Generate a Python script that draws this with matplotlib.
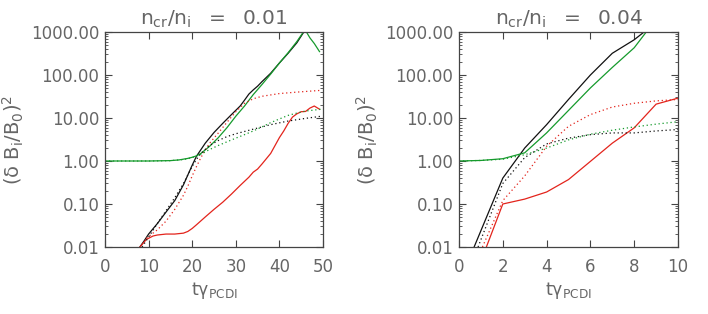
import numpy as np
import matplotlib
matplotlib.use("Agg")
import matplotlib.pyplot as plt
from matplotlib.ticker import FixedLocator, LogLocator, NullFormatter

plt.rcParams['mathtext.fontset'] = 'dejavusans'

# ---- panel 1 : n_cr/n_i = 0.01 ----
t1_black = [8, 9, 10, 12, 14, 16, 18, 20, 21, 23, 25, 27, 29, 31, 32, 33, 34, 35, 36, 38, 40, 42, 44, 45.6]
v1_black = [0.01, 0.014, 0.02, 0.035, 0.065, 0.12, 0.28, 0.8, 1.3, 2.6, 4.6, 7.5, 12, 19, 26, 36, 45, 55, 70, 110, 190, 320, 560, 1000]
t1_green = [0, 5, 10, 15, 17, 19, 20, 21, 22, 24, 26, 28, 30, 32, 34, 36, 38, 40, 42, 44, 45.5, 46.2, 47, 48, 49.2]
v1_green = [1.0, 1.0, 1.0, 1.02, 1.06, 1.15, 1.22, 1.32, 1.5, 2.2, 3.5, 6, 11, 19, 35, 60, 105, 190, 330, 600, 1000, 1000, 730, 540, 350]
t1_red = [8, 9.5, 11, 12, 14, 16, 18, 19, 20, 21, 23, 25, 27, 29, 31, 33, 34, 35, 36, 38, 40, 41, 42, 43, 44, 45, 46, 47, 48, 49.2]
v1_red = [0.01, 0.015, 0.018, 0.019, 0.02, 0.02, 0.021, 0.023, 0.027, 0.033, 0.05, 0.075, 0.11, 0.17, 0.27, 0.42, 0.55, 0.65, 0.85, 1.5, 3.5, 5.0, 7.5, 10.5, 12.5, 14, 14.2, 17, 19, 16]
t1_red_d = [9.5, 11, 12, 14, 16, 18, 19, 20, 21, 22, 23, 24, 26, 28, 30, 32, 34, 36, 40, 44, 49.6]
v1_red_d = [0.016, 0.021, 0.025, 0.04, 0.075, 0.16, 0.26, 0.45, 0.75, 1.2, 1.8, 2.6, 4.5, 8, 14, 22, 28, 32, 37, 40, 44]
t1_black_d = [8.5, 10, 12, 14, 16, 18, 20, 21, 22, 24, 26, 28, 30, 34, 38, 42, 46, 49.6]
v1_black_d = [0.01, 0.017, 0.035, 0.07, 0.14, 0.3, 0.75, 1.1, 1.5, 2.3, 3.0, 3.7, 4.3, 5.5, 7, 8.5, 9.8, 11]
t1_green_d = [0, 10, 15, 18, 20, 21, 22, 24, 26, 28, 30, 32, 34, 36, 38, 40, 42, 44, 46, 49.6]
v1_green_d = [1.0, 1.0, 1.02, 1.08, 1.2, 1.32, 1.45, 1.85, 2.3, 2.8, 3.4, 4.1, 5, 6.2, 7.8, 9.5, 11.5, 13, 14.5, 16]

# ---- panel 2 : n_cr/n_i = 0.04 ----
t2_black = [0.69, 2, 3, 4, 5, 6, 7, 8, 8.45]
v2_black = [0.01, 0.4, 2.0, 7, 27, 100, 320, 660, 1000]
t2_green = [0, 1, 2, 3, 4, 5, 6, 7, 8, 8.55]
v2_green = [1.0, 1.03, 1.13, 1.55, 4.5, 15, 50, 150, 430, 1000]
t2_red = [1.25, 2, 3, 4, 5, 6, 7, 8, 9, 10]
v2_red = [0.01, 0.1, 0.13, 0.19, 0.37, 0.98, 2.6, 5.9, 21, 29]
t2_red_d = [1.07, 2, 3, 4, 5, 6, 7, 8, 9, 10]
v2_red_d = [0.01, 0.12, 0.45, 2.2, 6.4, 12, 18, 22, 25, 27]
t2_black_d = [0.87, 2, 3, 4, 5, 6, 7, 8, 9, 10]
v2_black_d = [0.01, 0.3, 1.2, 2.5, 3.4, 4.1, 4.5, 4.5, 5.0, 5.4]
t2_green_d = [0, 1, 2, 3, 4, 5, 6, 7, 8, 9, 10]
v2_green_d = [1.0, 1.03, 1.1, 1.4, 2.0, 3.1, 4.2, 5.2, 6.2, 7.2, 8.2]

titles = [r'$\mathregular{n_{cr}/n_i\ \ =\ \ 0.01}$', r'$\mathregular{n_{cr}/n_i\ \ =\ \ 0.04}$']
ytick_vals = [0.01, 0.1, 1, 10, 100, 1000]
ytick_labels = ['0.01', '0.10', '1.00', '10.00', '100.00', '1000.00']

RED = '#e3241c'
GREEN = '#159a2c'
BLACK = '#111111'
TXT = '#666666'
DOT = (0, (1, 2.2))

fig = plt.figure(figsize=(7.08, 3.14), dpi=100)
ax1 = fig.add_axes([105/708, 1-247/314, 218/708, 215/314])
ax2 = fig.add_axes([459/708, 1-247/314, 219/708, 215/314])

panels = [
    (ax1, [(t1_black, v1_black, BLACK, '-'), (t1_green, v1_green, GREEN, '-'), (t1_red, v1_red, RED, '-'),
           (t1_red_d, v1_red_d, RED, DOT), (t1_black_d, v1_black_d, BLACK, DOT), (t1_green_d, v1_green_d, GREEN, DOT)],
     (0, 50), [0, 10, 20, 30, 40, 50]),
    (ax2, [(t2_black, v2_black, BLACK, '-'), (t2_green, v2_green, GREEN, '-'), (t2_red, v2_red, RED, '-'),
           (t2_red_d, v2_red_d, RED, DOT), (t2_black_d, v2_black_d, BLACK, DOT), (t2_green_d, v2_green_d, GREEN, DOT)],
     (0, 10), [0, 2, 4, 6, 8, 10]),
]

for i, (ax, lines, xlim, xt) in enumerate(panels):
    for t, v, c, ls in lines:
        ax.plot(t, v, color=c, ls=ls, lw=0.9)
    ax.set_yscale('log')
    ax.set_xlim(*xlim)
    ax.set_ylim(0.01, 1000)
    ax.set_xticks(xt)
    ax.set_xticklabels([str(x) for x in xt])
    ax.yaxis.set_major_locator(FixedLocator(ytick_vals))
    ax.set_yticklabels(ytick_labels)
    ax.yaxis.set_minor_locator(LogLocator(base=10, subs=np.arange(2, 10)))
    ax.yaxis.set_minor_formatter(NullFormatter())
    ax.tick_params(which='both', direction='in', top=True, right=True,
                   colors='#444444', labelcolor=TXT, labelsize=12, pad=4)
    ax.tick_params(which='major', length=5, width=0.8)
    ax.tick_params(which='minor', length=2.5, width=0.6)
    ax.tick_params(axis='x', pad=8)
    for s in ax.spines.values():
        s.set_color('#444444')
        s.set_linewidth(0.9)
    ax.set_title(titles[i], color=TXT, fontsize=14.5, pad=5)
    ax.set_xlabel(r'$\mathregular{t\gamma_{PCDI}}$', color=TXT, fontsize=12.5, labelpad=3)
    ax.set_ylabel(r'$\mathregular{(\delta\ B_i/B_0)^2}$', color=TXT, fontsize=14, labelpad=4)

fig.savefig('out.png', dpi=100)
